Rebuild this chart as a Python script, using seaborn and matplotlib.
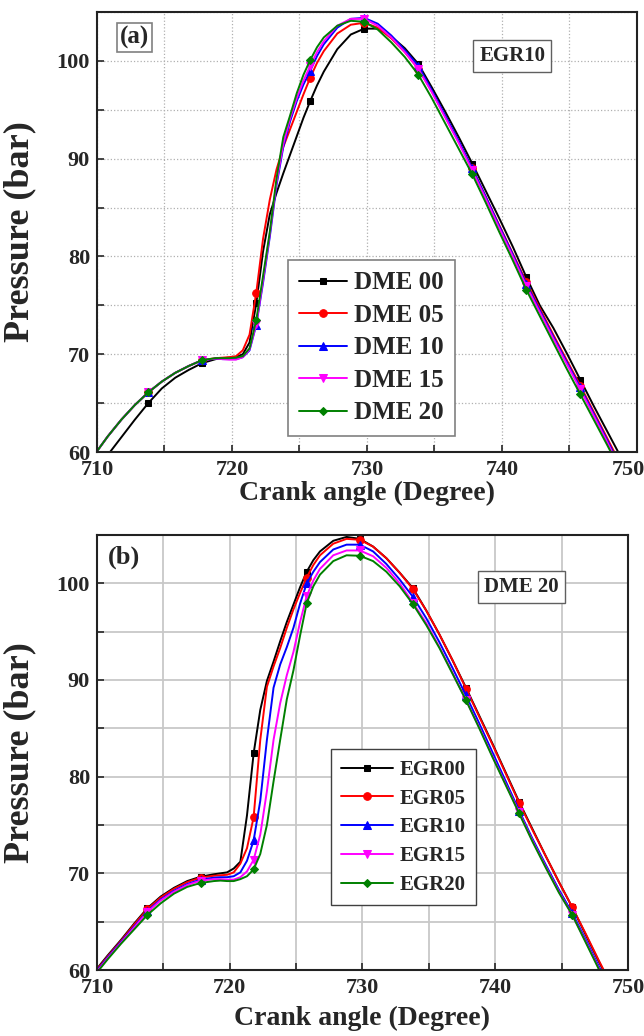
import matplotlib
matplotlib.use('Agg')
import matplotlib.pyplot as plt
import matplotlib.transforms as mtransforms
import seaborn as sns
from matplotlib.ticker import MultipleLocator

# crank angle grid shared by both panels (deg)
angle = [709.8, 710.8, 711.8, 712.8, 713.8, 714.8, 715.8, 716.8, 717.8, 718.8,
         719.3, 719.8, 720.3, 720.8, 721.3, 721.8, 722.3, 722.8, 723.3, 723.8,
         724.3, 724.8, 725.3, 725.8, 726.3, 726.8, 727.8, 728.8, 729.8, 730.8,
         731.8, 732.8, 733.8, 734.8, 735.8, 736.8, 737.8, 738.8, 739.8, 740.8,
         741.8, 742.8, 743.8, 744.8, 745.8, 746.8, 747.8, 748.8, 749.8]
marker_idx = [4, 8, 15, 23, 28, 32, 36, 40, 44]

# panel (a): EGR10, varying DME share
labels_a = ['DME 00', 'DME 05', 'DME 10', 'DME 15', 'DME 20']
dme00 = [58.1, 59.7, 61.5, 63.3, 65.0, 66.5, 67.6, 68.4, 69.1, 69.5,
         69.6, 69.65, 69.7, 70.0, 71.2, 75.2, 80.5, 84.3, 86.5, 88.5,
         90.4, 92.3, 94.2, 95.9, 97.5, 98.9, 101.2, 102.7, 103.3, 103.3,
         102.5, 101.3, 99.7, 97.3, 94.8, 92.2, 89.5, 86.7, 83.9, 81.0,
         77.9, 75.0, 72.7, 70.1, 67.4, 64.7, 62.1, 59.5, 56.9]
dme05 = [59.7, 61.6, 63.3, 64.8, 66.1, 67.2, 68.1, 68.8, 69.4, 69.6,
         69.65, 69.7, 69.8, 70.4, 72.0, 76.3, 81.8, 85.8, 88.9, 91.2,
         93.0, 94.8, 96.6, 98.3, 99.8, 101.0, 102.8, 103.7, 103.9, 103.4,
         102.3, 100.9, 99.2, 96.9, 94.3, 91.7, 89.0, 86.1, 83.2, 80.3,
         77.4, 74.7, 72.0, 69.4, 66.8, 64.1, 61.4, 58.7, 56.0]
dme10 = [59.7, 61.6, 63.3, 64.8, 66.1, 67.2, 68.1, 68.8, 69.4, 69.55,
         69.5, 69.5, 69.5, 69.7, 70.4, 73.0, 77.3, 82.0, 87.3, 91.2,
         93.8, 95.9, 97.6, 99.0, 100.5, 101.7, 103.4, 104.3, 104.4, 103.8,
         102.6, 101.1, 99.5, 97.0, 94.4, 91.8, 89.0, 86.1, 83.1, 80.2,
         77.2, 74.5, 71.8, 69.2, 66.6, 63.9, 61.2, 58.4, 55.7]
dme15 = [59.7, 61.6, 63.3, 64.8, 66.1, 67.2, 68.1, 68.8, 69.4, 69.55,
         69.5, 69.45, 69.45, 69.7, 70.5, 73.1, 77.6, 82.3, 87.6, 91.5,
         94.1, 96.2, 98.0, 99.5, 100.9, 102.0, 103.6, 104.3, 104.3, 103.6,
         102.4, 100.9, 99.2, 96.8, 94.2, 91.6, 88.8, 85.9, 82.9, 80.0,
         77.0, 74.3, 71.6, 69.0, 66.4, 63.7, 61.0, 58.2, 55.5]
dme20 = [59.7, 61.6, 63.3, 64.8, 66.1, 67.2, 68.1, 68.8, 69.4, 69.6,
         69.6, 69.6, 69.65, 69.8, 70.6, 73.5, 78.0, 82.5, 88.0, 92.2,
         94.4, 96.7, 98.6, 100.1, 101.4, 102.4, 103.6, 104.1, 104.0, 103.2,
         101.9, 100.4, 98.6, 96.2, 93.6, 91.0, 88.4, 85.5, 82.5, 79.6,
         76.6, 73.9, 71.2, 68.5, 65.9, 63.3, 60.7, 58.0, 55.3]

# panel (b): DME 20, varying EGR rate
labels_b = ['EGR00', 'EGR05', 'EGR10', 'EGR15', 'EGR20']
egr00 = [59.8, 61.5, 63.1, 64.8, 66.4, 67.6, 68.5, 69.2, 69.65, 69.9,
         70.0, 70.1, 70.5, 71.2, 76.0, 82.4, 86.9, 89.9, 91.9, 94.0,
         96.0, 97.8, 99.6, 101.2, 102.4, 103.3, 104.4, 104.8, 104.6, 103.8,
         102.6, 101.1, 99.5, 97.2, 94.7, 92.0, 89.2, 86.3, 83.4, 80.4,
         77.4, 74.6, 71.8, 69.1, 66.5, 63.7, 60.9, 58.2, 55.5]
egr05 = [59.7, 61.4, 63.0, 64.7, 66.3, 67.5, 68.4, 69.1, 69.55, 69.75,
         69.8, 69.85, 70.1, 71.0, 72.6, 75.8, 83.8, 89.3, 91.4, 93.3,
         95.4, 97.3, 99.0, 100.6, 101.9, 102.9, 104.1, 104.6, 104.5, 103.8,
         102.6, 101.1, 99.4, 97.2, 94.7, 92.0, 89.1, 86.2, 83.3, 80.3,
         77.3, 74.5, 71.8, 69.1, 66.5, 63.8, 61.0, 58.3, 55.6]
egr10 = [59.6, 61.3, 62.9, 64.5, 66.1, 67.3, 68.2, 68.9, 69.35, 69.55,
         69.6, 69.6, 69.7, 70.1, 71.3, 73.4, 77.5, 83.8, 89.2, 91.6,
         93.4, 95.4, 97.9, 100.0, 101.2, 102.2, 103.5, 104.0, 104.0, 103.3,
         102.0, 100.4, 98.6, 96.4, 93.9, 91.2, 88.4, 85.5, 82.5, 79.5,
         76.5, 73.6, 70.9, 68.3, 65.9, 63.2, 60.4, 57.6, 54.9]
egr15 = [59.5, 61.2, 62.8, 64.4, 66.0, 67.2, 68.1, 68.8, 69.25, 69.4,
         69.4, 69.35, 69.35, 69.6, 70.2, 71.4, 74.0, 78.5, 83.8, 87.6,
         90.5, 92.9, 96.0, 98.7, 100.3, 101.5, 102.9, 103.4, 103.4, 102.8,
         101.6, 100.0, 98.0, 95.9, 93.4, 90.7, 87.9, 85.1, 82.1, 79.2,
         76.3, 73.4, 70.7, 68.1, 65.7, 63.0, 60.2, 57.4, 54.7]
egr20 = [59.4, 61.1, 62.7, 64.2, 65.7, 66.9, 67.9, 68.6, 69.0, 69.2,
         69.25, 69.2, 69.2, 69.4, 69.7, 70.4, 72.0, 75.0, 79.5, 83.8,
         88.0, 91.0, 94.6, 97.95, 99.7, 100.9, 102.3, 102.9, 102.85, 102.3,
         101.2, 99.7, 97.85, 95.7, 93.3, 90.6, 87.9, 85.0, 82.0, 79.1,
         76.2, 73.3, 70.6, 68.0, 65.7, 62.9, 60.1, 57.3, 54.6]

colors = ['black', '#ff0000', '#0000ff', '#ff00ff', '#008000']
markers = ['s', 'o', '^', 'v', 'D']
msizes = [5, 5.5, 6, 6, 4.5]

sns.set_style('ticks')
plt.rcParams['font.family'] = ['Liberation Serif', 'DejaVu Serif']
plt.rcParams['font.weight'] = 'bold'
plt.rcParams['axes.labelweight'] = 'bold'

fig = plt.figure(figsize=(6.44, 10.36), dpi=100)
ax1 = fig.add_axes([0.1506, 0.5637, 0.8385, 0.4247])
ax2 = fig.add_axes([0.1506, 0.0637, 0.8245, 0.4199])

for ax, series, labels in [(ax1, [dme00, dme05, dme10, dme15, dme20], labels_a),
                           (ax2, [egr00, egr05, egr10, egr15, egr20], labels_b)]:
    for vals, lab, c, m, ms in zip(series, labels, colors, markers, msizes):
        sns.lineplot(x=angle, y=vals, ax=ax, color=c, marker=m, markersize=ms,
                     markevery=marker_idx, markeredgecolor=c, markerfacecolor=c,
                     linewidth=1.4, label=lab, sort=False, estimator=None)
    ax.set_xlim(710, 750)
    ax.set_ylim(60, 105)
    ax.xaxis.set_major_locator(MultipleLocator(10))
    ax.xaxis.set_minor_locator(MultipleLocator(5))
    ax.yaxis.set_major_locator(MultipleLocator(10))
    ax.yaxis.set_minor_locator(MultipleLocator(5))
    ax.tick_params(which='both', direction='in', length=5, width=1.2,
                   labelsize=16)
    ax.tick_params(axis='x', pad=6)
    ax.tick_params(axis='y', pad=5)
    for s in ax.spines.values():
        s.set_linewidth(1.5)
        s.set_color('#222222')
    ax.set_xlabel('Crank angle (Degree)', fontsize=20, fontweight='bold')
    ax.set_ylabel('Pressure (bar)', fontsize=26, fontweight='bold')
    ax.set_axisbelow(True)

ax1.grid(which='both', color='#b0b0b0', linestyle=':', linewidth=0.9)
ax2.grid(which='both', color='#c8c8c8', linestyle='-', linewidth=1.3)

# keep the 750 tick label of panel (a) inside the figure
fig.canvas.draw()
for tick in ax1.xaxis.get_major_ticks():
    if tick.label1.get_text() == '750':
        tick.label1.set_horizontalalignment('right')
        tick.label1.set_transform(tick.label1.get_transform() +
                                  mtransforms.ScaledTranslation(8 / 100, 0, fig.dpi_scale_trans))

ax1.yaxis.set_label_coords(-0.113, 0.5)
ax2.yaxis.set_label_coords(-0.115, 0.5)
ax1.xaxis.set_label_coords(0.5, -0.066)
ax2.xaxis.set_label_coords(0.5, -0.082)

leg1 = ax1.legend(loc='upper left', bbox_to_anchor=(0.354, 0.436), borderaxespad=0,
                  prop={'weight': 'bold', 'size': 18}, frameon=True,
                  fancybox=False, framealpha=1, edgecolor='#808080',
                  handlelength=1.9, handletextpad=0.3, labelspacing=0.38, borderpad=0.45)
leg1.get_frame().set_linewidth(1.2)
leg2 = ax2.legend(loc='upper left', bbox_to_anchor=(0.44, 0.507), borderaxespad=0,
                  prop={'weight': 'bold', 'size': 15}, frameon=True,
                  fancybox=False, framealpha=1, edgecolor='#404040',
                  handlelength=2.5, handletextpad=0.3, labelspacing=0.42, borderpad=0.5)
leg2.get_frame().set_linewidth(1.0)

ax1.text(0.069, 0.942, '(a)', transform=ax1.transAxes, ha='center', va='center',
         fontsize=18, fontweight='bold',
         bbox=dict(boxstyle='square,pad=0.12', facecolor='white', edgecolor='#808080', linewidth=1.2))
ax1.text(0.769, 0.90, 'EGR10', transform=ax1.transAxes, ha='center', va='center',
         fontsize=15, fontweight='bold',
         bbox=dict(boxstyle='square,pad=0.3', facecolor='white', edgecolor='#606060', linewidth=1.0))
ax2.text(0.05, 0.948, '(b)', transform=ax2.transAxes, ha='center', va='center',
         fontsize=19, fontweight='bold')
ax2.text(0.80, 0.881, 'DME 20', transform=ax2.transAxes, ha='center', va='center',
         fontsize=15, fontweight='bold',
         bbox=dict(boxstyle='square,pad=0.3', facecolor='white', edgecolor='#606060', linewidth=1.0))

fig.savefig('out.png', dpi=100)
